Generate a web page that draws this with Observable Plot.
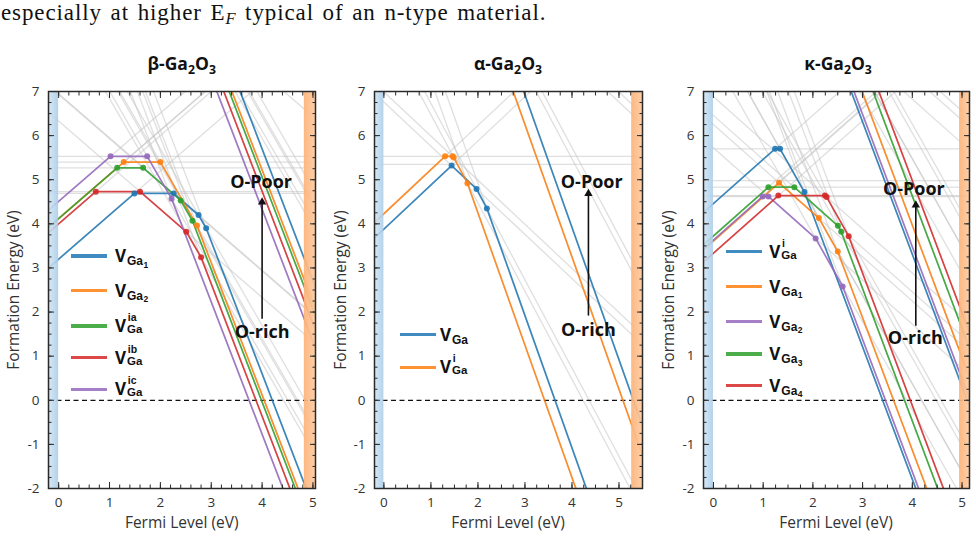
<!DOCTYPE html>
<html><head><meta charset="utf-8">
<script src="https://cdn.jsdelivr.net/npm/d3@7"></script>
<script src="https://cdn.jsdelivr.net/npm/@observablehq/plot@0.6"></script>
<style>
body{margin:0;background:#fff;}
#root{position:relative;width:976px;height:537px;overflow:hidden;font-family:"Open Sans",sans-serif;color:#222;}
.abs{position:absolute;white-space:nowrap;}
.toptext{left:1px;top:-1px;font-family:"Liberation Serif",serif;font-size:23px;line-height:28px;letter-spacing:0.9px;word-spacing:2px;color:#111;}
.toptext sub{font-size:0.72em;vertical-align:-0.25em;line-height:0;}
.ptitle{font-weight:700;font-size:17.5px;line-height:20px;transform:translateX(-50%);color:#111;}
.ptitle sub{font-size:0.7em;vertical-align:-0.3em;line-height:0;}
.ylab{font-size:15.5px;line-height:20px;transform:translate(-50%,-50%) rotate(-90deg);color:#333;}
.xlab{font-size:15.5px;line-height:20px;transform:translate(-50%,-50%);color:#333;}
.sw{position:absolute;height:3.4px;width:36px;opacity:0.85;}
.lab{position:absolute;font-weight:700;font-size:17px;line-height:17px;color:#111;white-space:nowrap;}
.lab .sb{position:absolute;left:12px;top:8px;font-family:"Liberation Sans",sans-serif;font-size:12px;line-height:12px;}
.lab .sb .n{font-size:8.5px;vertical-align:-2.5px;margin-left:0.5px;}
.lab .sb.hi{top:7px;font-size:11.5px;line-height:11.5px;}
.lab .sp{position:absolute;left:12.8px;top:-4.9px;font-family:"Liberation Sans",sans-serif;font-size:10.5px;line-height:10.5px;}
.panel{position:absolute;top:75px;}
</style>
</head><body>
<svg width="0" height="0" style="position:absolute">
  <defs>
    <linearGradient id="gVB" x1="0" x2="1" y1="0" y2="0">
      <stop offset="0" stop-color="#d3e6f4"/><stop offset="1" stop-color="#a9cce9"/>
    </linearGradient>
    <linearGradient id="gCB" x1="0" x2="1" y1="0" y2="0">
      <stop offset="0" stop-color="#fdb277"/><stop offset="1" stop-color="#fdcaa0"/>
    </linearGradient>
  </defs>
</svg>
<div id="root"></div>
<script>
// ---------------- data ----------------
// charge states of the Ga vacancy lines (slope of each line)
const charges = [1, 0, -1, -2, -3];

// formation energy (eV) at E_F = 0, O-rich, for each charge state above (null = not shown)
// beta-Ga2O3
const betaVGa1  = [3.20, 4.69, 6.95, 9.70, 12.60];
const betaVGa2  = [4.12, 5.40, null, 9.40, 12.12];
const betaVGaIa = [4.12, 5.27, 6.93, 9.33, 11.96];
const betaVGaIb = [4.00, 4.73, 6.33, 8.84, 11.64];
const betaVGaIc = [4.51, 5.53, null, 9.01, 11.23];
const betaOPoorShift = 5.1;   // O-poor minus O-rich (eV)
const betaGap = 4.83;
const betaXRange = [-0.2, 5.05];

// alpha-Ga2O3
const alphaVGa  = [3.88, 5.35, 6.76, 8.73, 10.92];
const alphaVGaI = [4.23, 5.53, 6.99, 8.474, 10.25];
const alphaOPoorShift = 5.0;
const alphaGap = 5.27;
const alphaXRange = [-0.2, 5.5];

// kappa-Ga2O3
const kappaVGaI = [4.46, 5.70, null, 8.38, 10.21];
const kappaVGa1 = [3.61, 4.98, 6.25, 8.37, 10.87];
const kappaVGa2 = [3.63, 4.62, 5.725, 7.78, 10.38];
const kappaVGa3 = [3.725, 4.83, 6.457, 8.96, 11.53];
const kappaVGa4 = [3.335, 4.64, 6.883, 9.16, 11.88];
const kappaOPoorShift = 5.1;
const kappaGap = 4.95;
const kappaXRange = [-0.2, 5.15];

const yRange = [-2, 7];
const xMajorTicks = [0, 1, 2, 3, 4, 5];
const yMajorTicks = [-2, -1, 0, 1, 2, 3, 4, 5, 6, 7];

// annotation arrows: [x, y from (O-rich), y to (O-poor)]
const betaArrow  = [4.00, 1.85, 4.60];
const alphaArrow = [4.35, 1.92, 4.79];
const kappaArrow = [4.07, 1.69, 4.53];
// annotation labels [x, y]
const betaPoorTag  = [3.98, 4.94], betaRichTag  = [4.00, 1.54];
const alphaPoorTag = [4.42, 4.94], alphaRichTag = [4.35, 1.58];
const kappaPoorTag = [4.03, 4.79], kappaRichTag = [4.06, 1.41];

// ---------------- styles ----------------
const C = {blue: "#1f77b4", orange: "#ff7f0e", green: "#2ca02c", red: "#d62728", purple: "#9467bd"};
const betaColors  = [C.blue, C.orange, C.green, C.red, C.purple];
const alphaColors = [C.blue, C.orange];
const kappaColors = [C.blue, C.orange, C.purple, C.green, C.red];

// ---------------- helpers ----------------
function envelope(lines, xmin, xmax) {
  let cur = lines.reduce((a, b) => (b.e + b.q * xmin < a.e + a.q * xmin - 1e-12 ? b : a));
  let x = xmin;
  const pts = [[xmin, cur.e + cur.q * xmin]], verts = [];
  for (;;) {
    let best = null, bx = Infinity;
    for (const m of lines) {
      if (m.q >= cur.q) continue;
      const xi = (m.e - cur.e) / (cur.q - m.q);
      if (xi < x - 1e-9) continue;
      if (xi < bx - 1e-9 || (Math.abs(xi - bx) <= 1e-9 && m.q < best.q)) { bx = xi; best = m; }
    }
    if (!best || bx >= xmax) break;
    x = bx;
    const y = cur.e + cur.q * x;
    pts.push([x, y]); verts.push([x, y]);
    cur = best;
  }
  pts.push([xmax, cur.e + cur.q * xmax]);
  return {pts, verts};
}

function buildPanel({series, colors, shift, gap, xr, minorStep, arrow, poorTag, richTag, width, marginRight}) {
  const [xmin, xmax] = xr;
  const gray = [], hull = [], verts = [];
  series.forEach((E0s, k) => {
    [["rich", 0], ["poor", shift]].forEach(([cond, s]) => {
      const lines = charges.map((q, i) => ({q, e: E0s[i] == null ? null : E0s[i] + s})).filter(d => d.e != null);
      for (const L of lines) gray.push({x1: xmin, y1: L.e + L.q * xmin, x2: xmax, y2: L.e + L.q * xmax});
      const env = envelope(lines, xmin, xmax);
      env.pts.forEach(p => hull.push({x: p[0], y: p[1], id: k + cond, c: colors[k]}));
      if (cond === "rich") env.verts.forEach(p => verts.push({x: p[0], y: p[1], c: colors[k]}));
    });
  });
  const minorX = d3.range(-40, 40).map(i => +(i * minorStep).toFixed(4)).filter(v => v >= xmin - 1e-6 && v <= xmax + 1e-6);
  const minorY = d3.range(-8, 29).map(i => i * 0.25);
  const vb = [{x1: xmin, x2: 0, y1: yRange[0], y2: yRange[1]}];
  const cb = [{x1: gap, x2: xmax, y1: yRange[0], y2: yRange[1]}];
  const tick = {label: null, stroke: "#2a2a2a"};
  return Plot.plot({
    width, height: 462, marginLeft: 48, marginRight, marginTop: 16, marginBottom: 49,
    x: {domain: xr, label: null},
    y: {domain: yRange, label: null},
    style: {fontFamily: "'Open Sans', sans-serif", fontSize: "13px", color: "#333", background: "transparent"},
    marks: [
      Plot.link(gray, {x1: "x1", y1: "y1", x2: "x2", y2: "y2", stroke: "#c4c4c4", strokeOpacity: 0.55, strokeWidth: 1.3, clip: true}),
      Plot.ruleY([0], {stroke: "#111", strokeDasharray: "5,3.5", strokeWidth: 1.2}),
      Plot.line(hull, {x: "x", y: "y", z: "id", stroke: "c", strokeWidth: 1.7, strokeOpacity: 0.85, clip: true}),
      Plot.dot(verts, {x: "x", y: "y", fill: "c", r: 3, fillOpacity: 0.9, clip: true}),
      Plot.rect(vb, {x1: "x1", x2: "x2", y1: "y1", y2: "y2", fill: "url(#gVB)", fillOpacity: 0.88}),
      Plot.rect(cb, {x1: "x1", x2: "x2", y1: "y1", y2: "y2", fill: "url(#gCB)", fillOpacity: 0.92}),
      Plot.link([arrow], {x1: d => d[0], y1: d => d[1], x2: d => d[0], y2: d => d[2] - 0.1, stroke: "#111", strokeWidth: 1.6}),
      Plot.dot([arrow], {x: d => d[0], y: d => d[2], symbol: "triangle", r: 3.1, fill: "#111", dy: 4.6}),
      Plot.text([poorTag], {x: d => d[0], y: d => d[1], text: () => "O-Poor", fontWeight: "bold", fontSize: 18, fill: "#111"}),
      Plot.text([richTag], {x: d => d[0], y: d => d[1], text: () => "O-rich", fontWeight: "bold", fontSize: 18, fill: "#111"}),
      Plot.axisX(xMajorTicks, {...tick, anchor: "bottom", tickSize: -6, tickFormat: d => String(d), fill: "#333", fontSize: 13.5}),
      Plot.axisX(minorX, {...tick, anchor: "bottom", tickSize: -3.5, fill: "none"}),
      Plot.axisX(xMajorTicks, {...tick, anchor: "top", tickSize: -6, fill: "none"}),
      Plot.axisX(minorX, {...tick, anchor: "top", tickSize: -3.5, fill: "none"}),
      Plot.axisY(yMajorTicks, {...tick, anchor: "left", tickSize: -6, tickFormat: d => String(d), fill: "#333", fontSize: 13.5}),
      Plot.axisY(minorY, {...tick, anchor: "left", tickSize: -3.5, fill: "none"}),
      Plot.axisY(yMajorTicks, {...tick, anchor: "right", tickSize: -6, fill: "none"}),
      Plot.axisY(minorY, {...tick, anchor: "right", tickSize: -3.5, fill: "none"}),
      Plot.frame({stroke: "#2a2a2a", strokeWidth: 1.5})
    ]
  });
}

// ---------------- layout ----------------
const root = document.getElementById("root");
function add(html) { root.insertAdjacentHTML("beforeend", html); }

add(`<div class="abs toptext">especially at higher E<sub><i>F</i></sub> typical of an n-type material.</div>`);

const panels = [
  {left: 0, width: 325, marginRight: 10, series: [betaVGa1, betaVGa2, betaVGaIa, betaVGaIb, betaVGaIc], colors: betaColors,
   shift: betaOPoorShift, gap: betaGap, xr: betaXRange, minorStep: 0.2, arrow: betaArrow, poorTag: betaPoorTag, richTag: betaRichTag},
  {left: 326, width: 322, marginRight: 6, series: [alphaVGa, alphaVGaI], colors: alphaColors,
   shift: alphaOPoorShift, gap: alphaGap, xr: alphaXRange, minorStep: 0.25, arrow: alphaArrow, poorTag: alphaPoorTag, richTag: alphaRichTag},
  {left: 655, width: 321, marginRight: 7, series: [kappaVGaI, kappaVGa1, kappaVGa2, kappaVGa3, kappaVGa4], colors: kappaColors,
   shift: kappaOPoorShift, gap: kappaGap, xr: kappaXRange, minorStep: 0.25, arrow: kappaArrow, poorTag: kappaPoorTag, richTag: kappaRichTag}
];
for (const p of panels) {
  const svg = buildPanel(p);
  const wrap = document.createElement("div");
  wrap.className = "panel";
  wrap.style.left = p.left + "px";
  wrap.appendChild(svg);
  root.appendChild(wrap);
}

// titles & axis titles
const titles = [["β", 181.7], ["α", 508], ["κ", 838]];
for (const [g, cx] of titles) add(`<div class="abs ptitle" style="left:${cx}px;top:53px">${g}-Ga<sub>2</sub>O<sub>3</sub></div>`);
for (const [lx, cx] of [[13, 181.7], [340, 508], [668, 836]]) {
  add(`<div class="abs ylab" style="left:${lx}px;top:290px">Formation Energy (eV)</div>`);
  add(`<div class="abs xlab" style="left:${cx}px;top:522px">Fermi Level (eV)</div>`);
}

// legends
function lab(kind, n) {
  if (kind === "sub") return `V<span class="sb">Ga<span class="n">${n}</span></span>`;
  if (kind === "sup") return `V<span class="sp">${n}</span><span class="sb hi">Ga</span>`;
  return `V<span class="sb">Ga</span>`;
}
const legends = [
  {sx: 70.7, lx: 115, items: [[256, C.blue, "sub", "1"], [290.5, C.orange, "sub", "2"], [326, C.green, "sup", "ia"], [357.7, C.red, "sup", "ib"], [389.3, C.purple, "sup", "ic"]]},
  {sx: 400, lx: 440, items: [[334.5, C.blue, "plain", ""], [367.3, C.orange, "sup", "i"]]},
  {sx: 726, lx: 769.3, items: [[251.7, C.blue, "sup", "i"], [286.7, C.orange, "sub", "1"], [321.7, C.purple, "sub", "2"], [354, C.green, "sub", "3"], [385.7, C.red, "sub", "4"]]}
];
for (const L of legends) {
  for (const [y, col, kind, n] of L.items) {
    add(`<div class="sw" style="left:${L.sx}px;top:${y - 1.7}px;background:${col}"></div>`);
    add(`<div class="lab" style="left:${L.lx}px;top:${y - 9}px">${lab(kind, n)}</div>`);
  }
}
</script>
</body></html>
